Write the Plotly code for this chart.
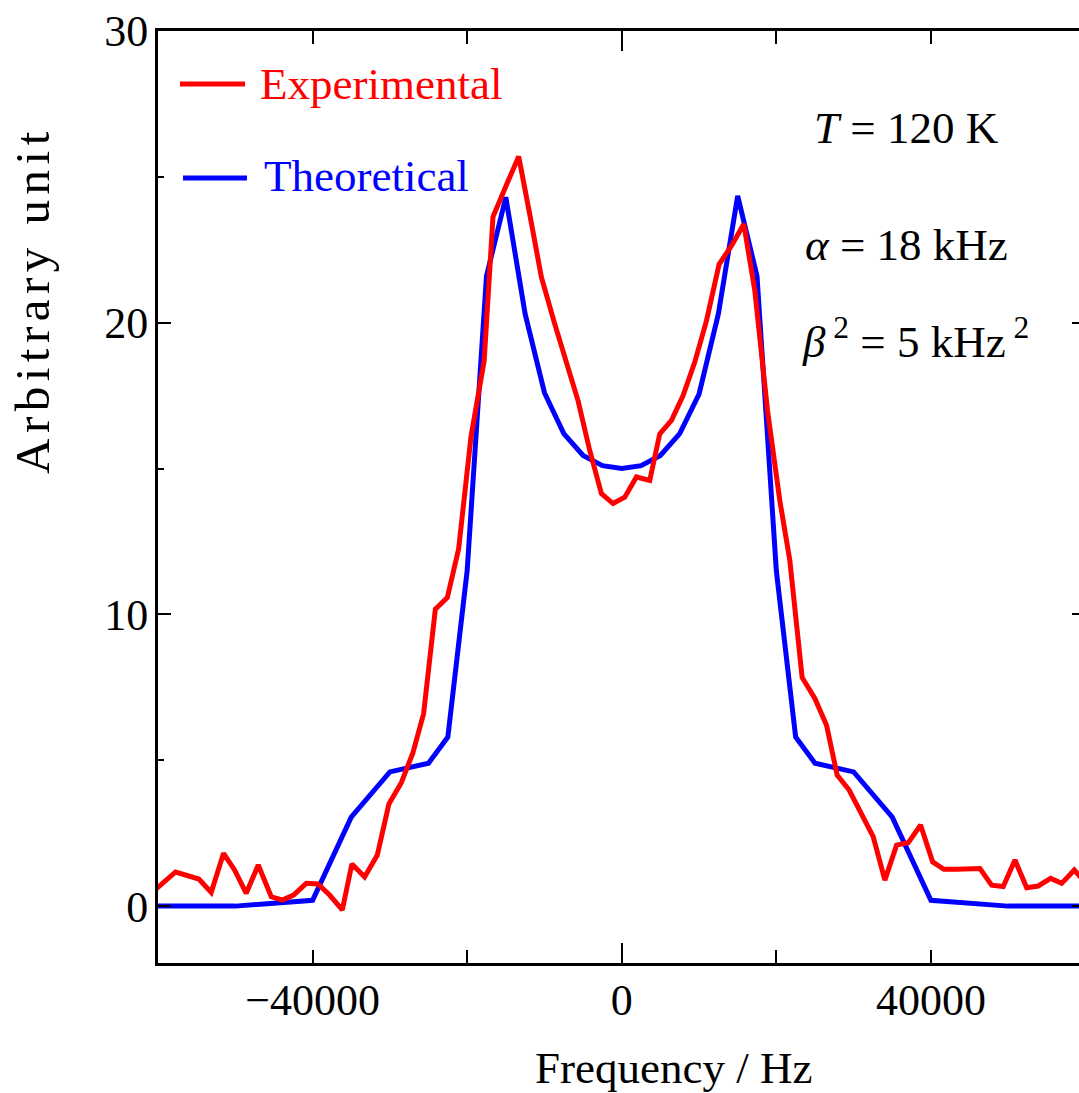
import plotly.graph_objects as go

# ---------------- data ----------------
exp_freq = [-60200, -57735, -54718, -53113, -51521, -50097, -48583, -47029, -45346, -43922,
            -42460, -40816, -39314, -37799, -36155, -34913, -33269, -31625, -30123, -28518,
            -27016, -25631, -24117, -22563, -21100, -19500, -17800, -16660, -14925, -13333,
            -11818, -10395, -8673, -7158, -5657, -4142, -2628, -1126, 388, 1903,
            3625, 4919, 6434, 7935, 9450, 10964, 12595, 14200, 15793, 17217,
            18861, 20453, 21747, 23340, 24984, 26498, 27870, 29424, 30899, 32531,
            34045, 35560, 37061, 38666, 40220, 41683, 43327, 44829, 46343, 47858,
            49359, 50874, 52388, 53890, 55495, 56920, 58551, 60000]
exp_val = [0.6, 1.17, 0.93, 0.47, 1.81, 1.24, 0.44, 1.41, 0.32, 0.21,
           0.38, 0.78, 0.76, 0.38, -0.13, 1.44, 1.0, 1.75, 3.5, 4.23,
           5.26, 6.6, 10.18, 10.58, 12.25, 16.1, 18.7, 23.63, 24.72, 25.7,
           23.6, 21.56, 19.96, 18.7, 17.33, 15.62, 14.14, 13.8, 14.02, 14.71,
           14.59, 16.19, 16.65, 17.5, 18.65, 20.07, 22.0, 22.64, 23.38, 21.1,
           16.99, 13.9, 11.85, 7.84, 7.12, 6.2, 4.49, 3.98, 3.18, 2.38,
           0.89, 2.09, 2.17, 2.78, 1.52, 1.26, 1.26, 1.28, 1.29, 0.72,
           0.67, 1.58, 0.63, 0.69, 0.95, 0.78, 1.24, 0.8]

theo_freq = [-60000, -50000, -40000, -35000, -30000, -25000, -22500, -20000, -17500, -15000,
             -12500, -10000, -7500, -5000, -2500, 0, 2500, 5000, 7500, 10000,
             12500, 15000, 17500, 20000, 22500, 25000, 30000, 35000, 40000, 50000, 60000]
theo_val = [0, 0, 0.2, 3.05, 4.6, 4.9, 5.8, 11.5, 21.6, 24.3,
            20.3, 17.6, 16.2, 15.45, 15.1, 15.0, 15.1, 15.45, 16.2, 17.55,
            20.3, 24.35, 21.6, 11.5, 5.8, 4.9, 4.6, 3.05, 0.2, 0, 0]

x_tickvals = [-40000, 0, 40000]
x_ticktext = ["\u221240000", "0", "40000"]
x_minor_tickvals = [-20000, 20000]
y_tickvals = [0, 10, 20, 30]
y_ticktext = ["0", "10", "20", "30"]

legend_names = ["Experimental", "Theoretical"]
RED = "#FF0000"
BLUE = "#0000FF"
FONT = "Liberation Serif, Times New Roman, serif"

# ---------------- figure ----------------
W, H = 1079, 1093
ML, MR, MT, MB = 158, 0, 31, 130
PW, PH = W - ML - MR, H - MT - MB


def px(xp):
    return (xp - ML) / PW


def py(yp):
    return (H - MB - yp) / PH


fig = go.Figure()
fig.add_trace(go.Scatter(x=theo_freq, y=theo_val, mode="lines",
                         line=dict(color=BLUE, width=5), name=legend_names[1],
                         showlegend=False))
fig.add_trace(go.Scatter(x=exp_freq, y=exp_val, mode="lines",
                         line=dict(color=RED, width=5), name=legend_names[0],
                         showlegend=False))

axis_common = dict(showgrid=False, zeroline=False)

fig.update_layout(
    width=W, height=H,
    margin=dict(l=ML, r=MR, t=MT, b=MB, pad=0),
    paper_bgcolor="white", plot_bgcolor="white",
    font=dict(family=FONT, size=44, color="black"),
    xaxis=dict(range=[-60000, 59160], tickvals=x_tickvals, ticktext=x_ticktext,
               ticks="inside", ticklen=13, tickwidth=2, tickcolor="black",
               minor=dict(tickvals=x_minor_tickvals, ticks="inside", ticklen=13,
                          tickwidth=2, tickcolor="black"),
               showline=True, linewidth=3, linecolor="black", mirror="ticks",
               tickfont=dict(family=FONT, size=44), ticklabelstandoff=-4,
               **axis_common),
    xaxis2=dict(range=[-60000, 59160], tickvals=[0], ticks="inside", ticklen=20,
                tickwidth=2, tickcolor="black", showticklabels=False,
                showline=True, linewidth=3, linecolor="black", mirror="ticks",
                overlaying="x", anchor="y", side="bottom", **axis_common),
    yaxis=dict(range=[-1.95, 30], tickvals=y_tickvals, ticktext=y_ticktext,
               ticks="inside", ticklen=13, tickwidth=2, tickcolor="black",
               minor=dict(dtick=5, ticks="inside", ticklen=6, tickwidth=2, tickcolor="black"),
               showline=True, linewidth=3, linecolor="black",
               tickfont=dict(family=FONT, size=44), ticklabelstandoff=-2,
               **axis_common),
    yaxis2=dict(range=[-1.95, 30], tickvals=y_tickvals, ticks="inside", ticklen=7,
                tickwidth=2, tickcolor="black", showticklabels=False, showline=False,
                overlaying="y", side="right", anchor="x", **axis_common),
)
# invisible trace so the overlay axes render
fig.add_trace(go.Scatter(x=[0], y=[0], xaxis="x2", yaxis="y2", mode="markers",
                         marker=dict(opacity=0), showlegend=False, hoverinfo="skip"))

# legend (manual)
fig.add_shape(type="line", xref="paper", yref="paper", x0=px(180), x1=px(245),
              y0=py(84), y1=py(84), line=dict(color=RED, width=5))
fig.add_shape(type="line", xref="paper", yref="paper", x0=px(183), x1=px(247),
              y0=py(178), y1=py(178), line=dict(color=BLUE, width=5))

ann = []
ann.append(dict(text=legend_names[0], x=px(258), y=py(84), xanchor="left", yanchor="middle",
                font=dict(color=RED, size=45, family=FONT)))
ann.append(dict(text=legend_names[1], x=px(262), y=py(176), xanchor="left", yanchor="middle",
                font=dict(color=BLUE, size=45, family=FONT)))
ann.append(dict(text="<i>T</i> = 120 K", x=px(906), y=py(128), xanchor="center", yanchor="middle",
                font=dict(size=45, family=FONT)))
ann.append(dict(text="<i>\u03b1</i> = 18 kHz", x=px(906), y=py(245), xanchor="center", yanchor="middle",
                font=dict(size=45, family=FONT)))
ann.append(dict(text="<i>\u03b2</i><sup> 2</sup> = 5 kHz<sup> 2</sup>", x=px(915), y=py(338),
                xanchor="center", yanchor="middle", font=dict(size=45, family=FONT)))
ann.append(dict(text="Frequency / Hz", x=px(673), y=py(1068), xanchor="center", yanchor="middle",
                font=dict(size=45, family=FONT)))
ann.append(dict(text='<span style="letter-spacing:5.5px">Arbitrary unit</span>',
                x=px(32), y=py(300), xanchor="center", yanchor="middle",
                textangle=-90, font=dict(size=49, family=FONT)))
for a in ann:
    a.update(xref="paper", yref="paper", showarrow=False)
fig.update_layout(annotations=ann)

fig.write_html("out.html")
